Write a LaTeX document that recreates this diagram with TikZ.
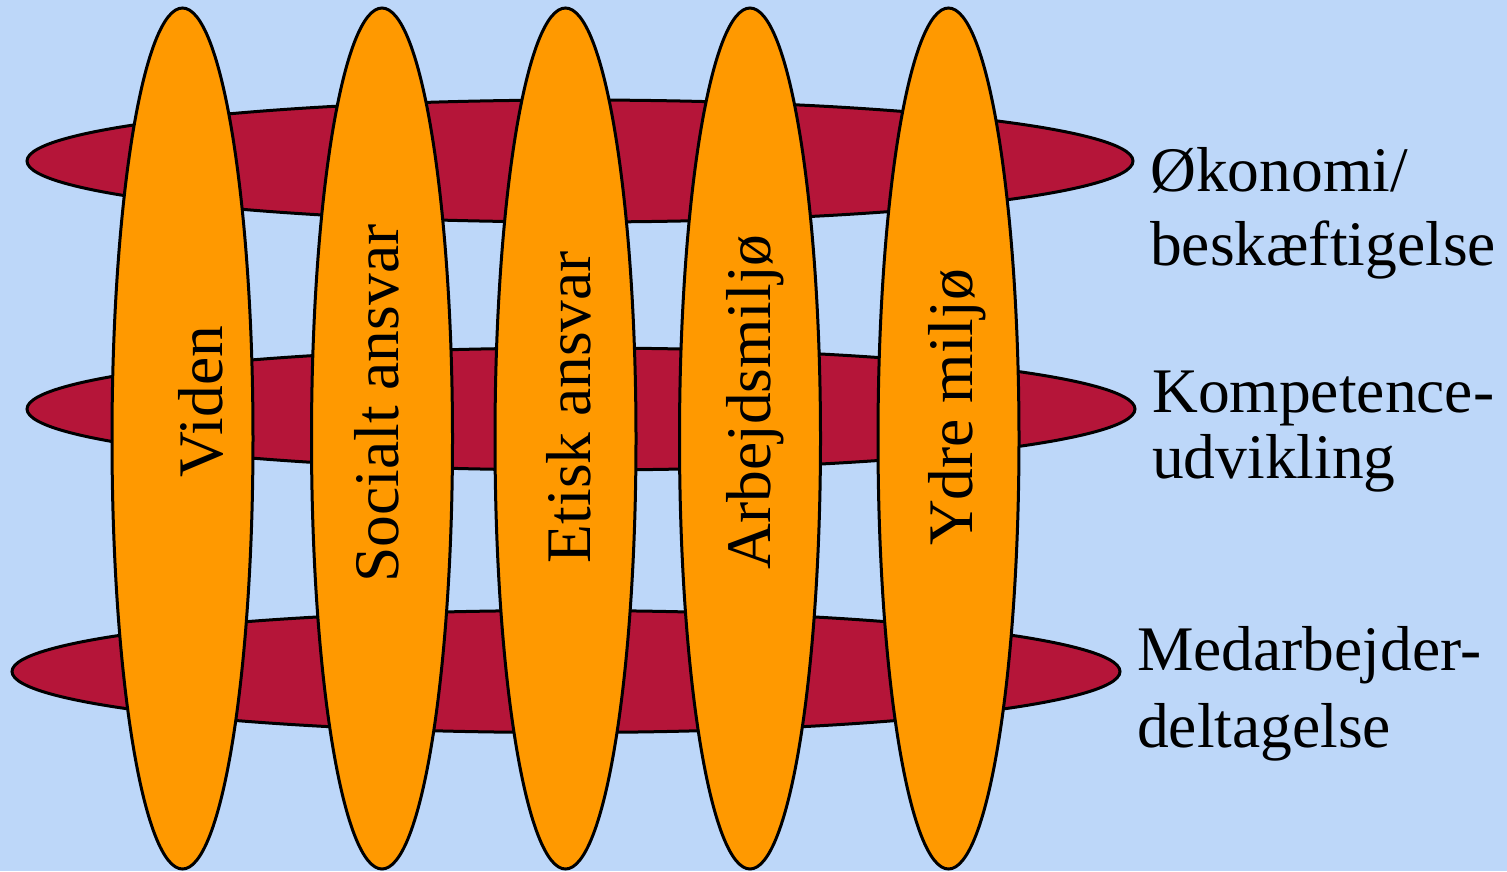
\documentclass[tikz,border=0pt]{standalone}
\usepackage{fontspec}
\setmainfont{Liberation Serif}
\usetikzlibrary{shapes.geometric}
\definecolor{bgblue}{HTML}{BDD7F9}
\definecolor{crimson}{HTML}{B51539}
\definecolor{orangefill}{HTML}{FF9900}
\tikzset{
  band/.style={ellipse, draw=black, line width=3pt, fill=crimson, inner sep=0pt, minimum height=122pt},
  pillar/.style={ellipse, draw=black, line width=3pt, fill=orangefill, inner sep=0pt, minimum width=141pt, minimum height=861pt},
  pillartext/.style={rotate=90, anchor=base, inner sep=0pt, font=\fontsize{63.5}{74}\selectfont},
  sidetext/.style={anchor=base west, inner sep=0pt, align=left}
}
\begin{document}
\begin{tikzpicture}[x=1pt,y=-1pt]
\fill[bgblue] (0,0) rectangle (1507,871);
\useasboundingbox (0,0) rectangle (1507,871);
% horizontal bands
\node[band, minimum width=1106pt] (b1) at (580,161) {};
\node[band, minimum width=1108pt] (b2) at (581,409) {};
\node[band, minimum width=1108pt] (b3) at (566,671.5) {};
% vertical pillars
\node[pillar] (p1) at (182.5,438.5) {};
\node[pillar] (p2) at (382,438.5) {};
\node[pillar] (p3) at (565.5,438.5) {};
\node[pillar] (p4) at (750,438.5) {};
\node[pillar] (p5) at (948.5,438.5) {};
% pillar texts
\node[pillartext] (t1) at (222,401.5) {Viden};
\node[pillartext] (t2) at (398,403.5) {Socialt ansvar};
\node[pillartext] (t3) at (590,407) {Etisk ansvar};
\node[pillartext] (t4) at (770,402) {Arbejdsmiljø};
\node[pillartext] (t5) at (972,407.5) {Ydre miljø};
% side labels (anchored at the baseline of the last line)
\node[sidetext, font=\fontsize{63.5}{74}\selectfont] (l1) at (1150,265) {Økonomi/\\beskæftigelse};
\node[sidetext, font=\fontsize{63.5}{66}\selectfont] (l2) at (1152,478) {Kompetence-\\udvikling};
\node[sidetext, font=\fontsize{63.5}{77}\selectfont] (l3) at (1137,747) {Medarbejder-\\deltagelse};
\end{tikzpicture}
\end{document}
